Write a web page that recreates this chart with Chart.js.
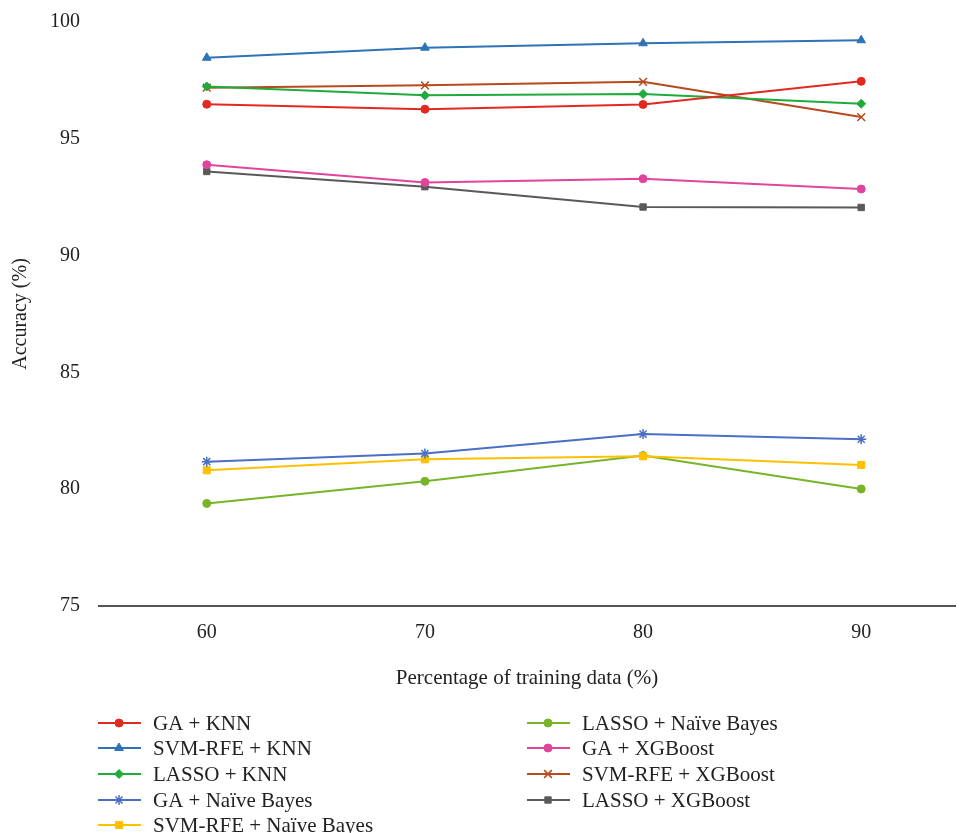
<!DOCTYPE html>
<html>
<head>
<meta charset="utf-8">
<script src="https://cdn.jsdelivr.net/npm/chart.js@4/dist/chart.umd.min.js"></script>
<style>
  html, body { margin: 0; padding: 0; background: #fff; overflow: hidden; }
  #wrap { width: 962px; height: 833px; position: relative; }
  canvas { display: block; }
</style>
</head>
<body>
<div id="wrap"><canvas id="chart"></canvas></div>
<script>
// training data percentage (x categories)
const trainPct = [60, 70, 80, 90];
const yTicks = [75, 80, 85, 90, 95, 100];

// accuracy (%) per method
const gaKnn       = [96.48, 96.27, 96.47, 97.46];
const svmKnn      = [98.47, 98.90, 99.09, 99.22];
const lassoKnn    = [97.24, 96.86, 96.92, 96.50];
const gaNb        = [81.18, 81.53, 82.36, 82.14];
const svmNb       = [80.81, 81.28, 81.41, 81.04];
const lassoNb     = [79.39, 80.34, 81.44, 80.01];
const gaXgb       = [93.89, 93.13, 93.29, 92.85];
const svmXgb      = [97.19, 97.29, 97.44, 95.93];
const lassoXgb    = [93.60, 92.95, 92.08, 92.06];

const seriesNames = [
    'GA + KNN', 'SVM-RFE + KNN', 'LASSO + KNN', 'GA + Naïve Bayes', 'SVM-RFE + Naïve Bayes',
    'LASSO + Naïve Bayes', 'GA + XGBoost', 'SVM-RFE + XGBoost', 'LASSO + XGBoost',
];
const seriesValues = [gaKnn, svmKnn, lassoKnn, gaNb, svmNb, lassoNb, gaXgb, svmXgb, lassoXgb];
const seriesColors = [
    '#E3291F', '#2E72B8', '#1FAA3C', '#4A6FC4', '#FFC000',
    '#78B428', '#E0449C', '#B64A1C', '#595959',
];
const seriesMarkers = ['circle', 'triangle', 'rectRot', 'star', 'rect', 'circle', 'circle', 'crossRot', 'rect'];
const markerRadius  = [4, 5, 4.5, 5, 5, 4, 4, 5.5, 4.5];

const FONT = '"Liberation Serif", "DejaVu Serif", serif';

const datasets = seriesNames.map((name, i) => ({
    label: name,
    data: trainPct.map((x, j) => ({ x: x, y: seriesValues[i][j] })),
    borderColor: seriesColors[i],
    backgroundColor: seriesColors[i],
    borderWidth: 2,
    pointStyle: seriesMarkers[i],
    pointRadius: markerRadius[i],
    pointBorderWidth: (seriesMarkers[i] === 'star' || seriesMarkers[i] === 'crossRot') ? 1.5 : 1,
    tension: 0,
}));

// two-column legend drawn under the axis
const legendPlugin = {
    id: 'twoColLegend',
    afterDraw(chart) {
        const ctx = chart.ctx;
        const cols = [{ x: 98, n: 5 }, { x: 527, n: 4 }];
        const rowY = [723, 748, 774, 800, 825];
        let idx = 0;
        ctx.save();
        cols.forEach(col => {
            for (let r = 0; r < col.n; r++, idx++) {
                const ds = chart.data.datasets[idx];
                const y = rowY[r];
                ctx.strokeStyle = ds.borderColor;
                ctx.lineWidth = 2;
                ctx.beginPath();
                ctx.moveTo(col.x, y);
                ctx.lineTo(col.x + 43, y);
                ctx.stroke();
                ctx.fillStyle = ds.backgroundColor;
                ctx.lineWidth = ds.pointBorderWidth;
                Chart.helpers.drawPoint(ctx, {
                    pointStyle: ds.pointStyle,
                    radius: ds.pointRadius,
                    borderWidth: ds.pointBorderWidth,
                    rotation: 0,
                }, col.x + 21, y);
                ctx.fillStyle = '#222';
                ctx.font = '21px ' + FONT;
                ctx.textBaseline = 'middle';
                ctx.textAlign = 'left';
                ctx.fillText(ds.label, col.x + 55, y + 1);
            }
        });
        ctx.restore();
    }
};

new Chart(document.getElementById('chart'), {
    type: 'line',
    data: { datasets: datasets },
    options: {
        responsive: true,
        maintainAspectRatio: false,
        animation: false,
        layout: { padding: { top: 22, right: 0, bottom: 127, left: 0 } },
        plugins: {
            legend: { display: false },
            tooltip: { enabled: false },
        },
        scales: {
            x: {
                type: 'linear',
                min: 55.06,
                max: 94.30,
                afterBuildTicks: (scale) => {
                    scale.ticks = trainPct.map(v => ({ value: v }));
                },
                afterFit: (scale) => {
                    scale.height = 100;
                    scale.paddingLeft = 0;
                    scale.paddingRight = 0;
                },
                grid: { display: false, drawTicks: false },
                border: { display: true, color: '#555', width: 2 },
                ticks: {
                    color: '#222',
                    padding: 15,
                    font: { family: FONT, size: 20 },
                },
                title: {
                    display: true,
                    text: 'Percentage of training data (%)',
                    color: '#222',
                    font: { family: FONT, size: 21 },
                    padding: { top: 0, bottom: 15 },
                },
            },
            y: {
                min: 75,
                max: 100,
                afterBuildTicks: (scale) => {
                    scale.ticks = yTicks.map(v => ({ value: v }));
                },
                afterFit: (scale) => {
                    scale.width = 99;
                    scale.paddingTop = 0;
                    scale.paddingBottom = 0;
                },
                grid: { display: false, drawTicks: false },
                border: { display: false },
                ticks: {
                    color: '#222',
                    padding: 19,
                    font: { family: FONT, size: 20 },
                },
                title: {
                    display: true,
                    text: 'Accuracy (%)',
                    color: '#222',
                    font: { family: FONT, size: 20 },
                    padding: { top: 9, bottom: 0 },
                },
            },
        },
    },
    plugins: [legendPlugin],
});
</script>
</body>
</html>
